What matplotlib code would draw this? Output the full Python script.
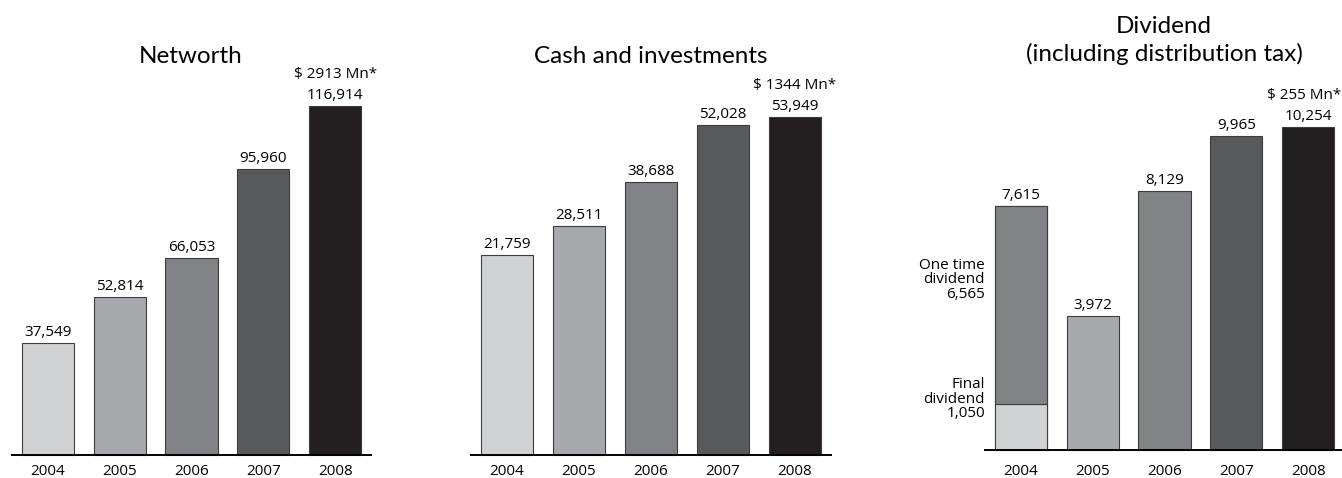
import matplotlib
matplotlib.use("Agg")
import matplotlib.pyplot as plt

# data (Rs. crore)
years = ["2004", "2005", "2006", "2007", "2008"]
networth = [37549, 52814, 66053, 95960, 116914]
cash = [21759, 28511, 38688, 52028, 53949]
dividend = [7615, 3972, 8129, 9965, 10254]
final_div_2004 = 1050
one_time_div_2004 = 6565
usd_labels = ["$ 2913 Mn*", "$ 1344 Mn*", "$ 255 Mn*"]

greys = ["#d1d2d4", "#a7a9ac", "#808285", "#58595b", "#231f20"]
edge = "#3c3b3d"

W, H = 1342, 478
NUM_FONT = "Open Sans"
TITLE_FONT = "Lato"
NUM_SIZE = 11
TITLE_SIZE = 17.5


def fmt(v):
    return "{:,}".format(v)


def make_axes(fig, left, right, base_px, ylo, yhi):
    # left/right/base in pixels from top-left of the figure
    ax = fig.add_axes([left / W, (H - base_px) / H, (right - left) / W, base_px / H])
    ax.set_xlim(-0.5, 4.5)
    ax.set_ylim(ylo, yhi)
    for s in ["top", "left", "right"]:
        ax.spines[s].set_visible(False)
    ax.spines["bottom"].set_linewidth(1.4)
    ax.spines["bottom"].set_color("black")
    ax.set_yticks([])
    ax.set_xticks(range(len(years)))
    ax.set_xticklabels(years, fontfamily=NUM_FONT, fontsize=NUM_SIZE)
    ax.tick_params(axis="x", length=0)
    ax.patch.set_visible(False)
    return ax


def draw_bars(ax, values, base, usd, usd_shift=0):
    x = range(len(values))
    heights = [v - base for v in values]
    ax.bar(x, heights, bottom=base, width=0.725, color=greys,
           edgecolor=edge, linewidth=0.8, clip_on=False)
    for i, v in enumerate(values):
        ax.annotate(fmt(v), (i, v), xytext=(0, 5), textcoords="offset points",
                    ha="center", va="baseline", fontfamily=NUM_FONT, fontsize=NUM_SIZE)
    ax.annotate(usd, (4, values[-1]), xytext=(usd_shift, 20), textcoords="offset points",
                ha="center", va="baseline", fontfamily=NUM_FONT, fontsize=NUM_SIZE)


def main():
    fig = plt.figure(figsize=(W / 100, H / 100), dpi=100)

    # Networth
    ax1 = make_axes(fig, 12, 371, 455, 0, 152430)
    ax1.tick_params(axis="x", pad=6.5)
    draw_bars(ax1, networth, 0, usd_labels[0])
    fig.text(191 / W, 1 - 63 / H, "Networth", ha="center", va="baseline",
             fontfamily=TITLE_FONT, fontsize=TITLE_SIZE)

    # Cash and investments
    ax2 = make_axes(fig, 471, 831, 455, -24890, 81245)
    ax2.tick_params(axis="x", pad=6.5)
    draw_bars(ax2, cash, -24890, usd_labels[1])
    fig.text(651 / W, 1 - 63 / H, "Cash and investments", ha="center", va="baseline",
             fontfamily=TITLE_FONT, fontsize=TITLE_SIZE)

    # Dividend
    base3 = -482
    ax3 = make_axes(fig, 985, 1344, 450, base3, 14473)
    ax3.tick_params(axis="x", pad=10)
    draw_bars(ax3, dividend, base3, usd_labels[2], usd_shift=-3)
    # split 2004 into final + one time dividend
    ax3.bar(0, final_div_2004 - base3, bottom=base3, width=0.725, color=greys[0],
            edgecolor=edge, linewidth=0.8)
    ax3.bar(0, one_time_div_2004, bottom=final_div_2004, width=0.725, color=greys[2],
            edgecolor=edge, linewidth=0.8)
    ax3.text(-0.5, 5175, "One time\ndividend\n" + fmt(one_time_div_2004),
             ha="right", va="center", multialignment="right", linespacing=0.95,
             fontfamily=NUM_FONT, fontsize=NUM_SIZE, clip_on=False)
    ax3.text(-0.5, 1200, "Final\ndividend\n" + fmt(final_div_2004),
             ha="right", va="center", multialignment="right", linespacing=0.95,
             fontfamily=NUM_FONT, fontsize=NUM_SIZE, clip_on=False)
    fig.text(1164 / W, 1 - 33 / H, "Dividend", ha="center", va="baseline",
             fontfamily=TITLE_FONT, fontsize=TITLE_SIZE)
    fig.text(1164 / W, 1 - 61 / H, "(including distribution tax)", ha="center",
             va="baseline", fontfamily=TITLE_FONT, fontsize=TITLE_SIZE)

    fig.savefig("out.png", dpi=100)


if __name__ == "__main__":
    main()
